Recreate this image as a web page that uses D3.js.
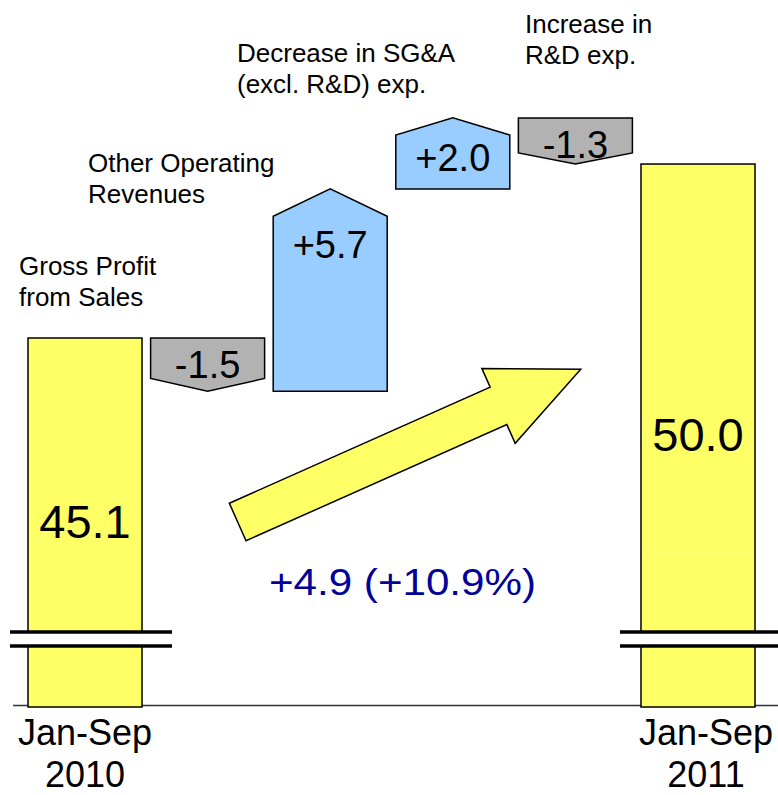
<!DOCTYPE html>
<html>
<head>
<meta charset="utf-8">
<script src="https://cdn.jsdelivr.net/npm/d3@7"></script>
<style>
  html, body { margin: 0; padding: 0; background: #ffffff; }
  svg { display: block; }
  text { font-family: "Liberation Sans", Arial, Helvetica, sans-serif; }
</style>
</head>
<body>
<div id="chart"></div>
<script>
// ---------------- data ----------------
const categories = ["Jan-Sep 2010", "Other", "Other Operating Revenues", "SG&A", "R&D", "Jan-Sep 2011"];
const kinds = ["total", "delta", "delta", "delta", "delta", "total"];
const values = [45.1, -1.5, 5.7, 2.0, -1.3, 50.0];
const valueLabels = ["45.1", "-1.5", "+5.7", "+2.0", "-1.3", "50.0"];
const stepLabels = [
  ["Gross Profit", "from Sales"],
  [],
  ["Other Operating", "Revenues"],
  ["Decrease in SG&A", "(excl. R&D) exp."],
  ["Increase in", "R&D exp."],
  []
];
const axisLabels = [["Jan-Sep", "2010"], [], [], [], [], ["Jan-Sep", "2011"]];
const changeLabel = "+4.9 (+10.9%)";

// ---------------- layout / style ----------------
const W = 778, H = 795;
const baselineY = 705;
const pxPerUnit = 35.5;
const anchorValue = 45.1, anchorY = 338;
const colors = { total: "#FFFF66", pos: "#99CCFF", neg: "#B2B2B2", change: "#000099" };
const stepLabelPos = [[19, 275], null, [88, 172], [237, 62], [525, 33], null];
const axisLabelDx = [0, 0, 0, 0, 0, 8];
const axisLabelY = [745, 787];
const breaks = [{ x1: 10, x2: 172 }, { x1: 620, x2: 778 }];
const breakY = [632, 646];
const arrow = { cx: 237.7, cy: 522, angle: -24, length: 375.5, headLen: 90, shaftHalf: 20.5, headHalf: 41 };

const svg = d3.select("#chart").append("svg").attr("width", W).attr("height", H);

const x = d3.scaleBand().domain(categories).range([28, 755]).paddingInner(0.07).paddingOuter(0);
const y = d3.scaleLinear()
  .domain([anchorValue, anchorValue + 10])
  .range([anchorY, anchorY - 10 * pxPerUnit]);
const bw = x.bandwidth();

// compute waterfall steps
let cum = 0;
const steps = categories.map((c, i) => {
  if (kinds[i] === "total") { cum = values[i]; return { c, i, kind: "total", to: values[i] }; }
  const from = cum; cum = cum + values[i];
  return { c, i, kind: "delta", from, to: cum };
});

// baseline
svg.append("line")
  .attr("x1", 13).attr("x2", W).attr("y1", baselineY + 0.5).attr("y2", baselineY + 0.5)
  .attr("stroke", "#333").attr("stroke-width", 1.5);

// total bars
steps.filter(d => d.kind === "total").forEach(d => {
  const top = y(d.to);
  svg.append("rect")
    .attr("x", x(d.c)).attr("y", top)
    .attr("width", bw).attr("height", baselineY + 2 - top)
    .attr("fill", colors.total).attr("stroke", "#000").attr("stroke-width", 1.5);
  svg.append("text")
    .attr("x", x(d.c) + bw / 2).attr("y", (top + baselineY) / 2)
    .attr("dy", "0.36em").attr("text-anchor", "middle")
    .attr("font-size", 47).attr("fill", "#000")
    .text(valueLabels[d.i]);
});

// faint segment line inside final bar
{
  const last = steps[steps.length - 1];
  const top = y(last.to);
  const ly = top + 0.72 * (baselineY - top);
  svg.append("line")
    .attr("x1", x(last.c) + 2).attr("x2", x(last.c) + bw - 2)
    .attr("y1", ly).attr("y2", ly)
    .attr("stroke", "#ffffff").attr("stroke-width", 1);
}

// delta boxes
steps.filter(d => d.kind === "delta").forEach(d => {
  const x0 = x(d.c), x1 = x0 + bw, xc = x0 + bw / 2;
  const a = y(d.from), b = y(d.to);
  const h = Math.abs(a - b);
  const p = 0.24 * Math.min(bw, h);
  let pts, labelY, fill;
  if (d.to < d.from) {
    pts = [[x0, a], [x1, a], [x1, b - p], [xc, b], [x0, b - p]];
    labelY = a + 40;
    fill = colors.neg;
  } else {
    pts = [[x0, a], [x0, b + p], [xc, b], [x1, b + p], [x1, a]];
    labelY = Math.min(b + p + 42, a - 18);
    fill = colors.pos;
  }
  svg.append("path")
    .attr("d", d3.line()(pts) + "Z")
    .attr("fill", fill).attr("stroke", "#000").attr("stroke-width", 1.5)
    .attr("stroke-linejoin", "miter");
  svg.append("text")
    .attr("x", xc).attr("y", labelY)
    .attr("text-anchor", "middle").attr("font-size", 38).attr("fill", "#000")
    .text(valueLabels[d.i]);
});

// axis breaks
breaks.forEach(br => {
  svg.append("rect")
    .attr("x", br.x1).attr("y", breakY[0]).attr("width", br.x2 - br.x1).attr("height", breakY[1] - breakY[0])
    .attr("fill", "#ffffff");
  breakY.forEach(by => {
    svg.append("line")
      .attr("x1", br.x1).attr("x2", br.x2).attr("y1", by).attr("y2", by)
      .attr("stroke", "#000").attr("stroke-width", 3.5);
  });
});

// step labels
stepLabels.forEach((lines, i) => {
  if (!lines.length) return;
  const [lx, ly] = stepLabelPos[i];
  const t = svg.append("text").attr("font-size", 26).attr("fill", "#000");
  lines.forEach((ln, k) => {
    t.append("tspan").attr("x", lx).attr("y", ly + k * 31).text(ln);
  });
});

// axis category labels
axisLabels.forEach((lines, i) => {
  if (!lines.length) return;
  const cx = x(categories[i]) + bw / 2 + axisLabelDx[i];
  const t = svg.append("text").attr("font-size", 36).attr("fill", "#000").attr("text-anchor", "middle");
  lines.forEach((ln, k) => {
    t.append("tspan").attr("x", cx).attr("y", axisLabelY[k]).text(ln);
  });
});

// growth arrow
{
  const L = arrow.length, hl = arrow.headLen, sh = arrow.shaftHalf, hh = arrow.headHalf;
  const local = [[0, -sh], [L - hl, -sh], [L - hl, -hh], [L, 0], [L - hl, hh], [L - hl, sh], [0, sh]];
  svg.append("path")
    .attr("d", d3.line()(local) + "Z")
    .attr("transform", `translate(${arrow.cx},${arrow.cy}) rotate(${arrow.angle})`)
    .attr("fill", colors.total).attr("stroke", "#000").attr("stroke-width", 1.5)
    .attr("stroke-linejoin", "miter");
}

// change label
svg.append("text")
  .attr("x", 269).attr("y", 595)
  .attr("font-size", 36).attr("fill", colors.change)
  .attr("textLength", 267).attr("lengthAdjust", "spacingAndGlyphs")
  .text(changeLabel);
</script>
</body>
</html>
